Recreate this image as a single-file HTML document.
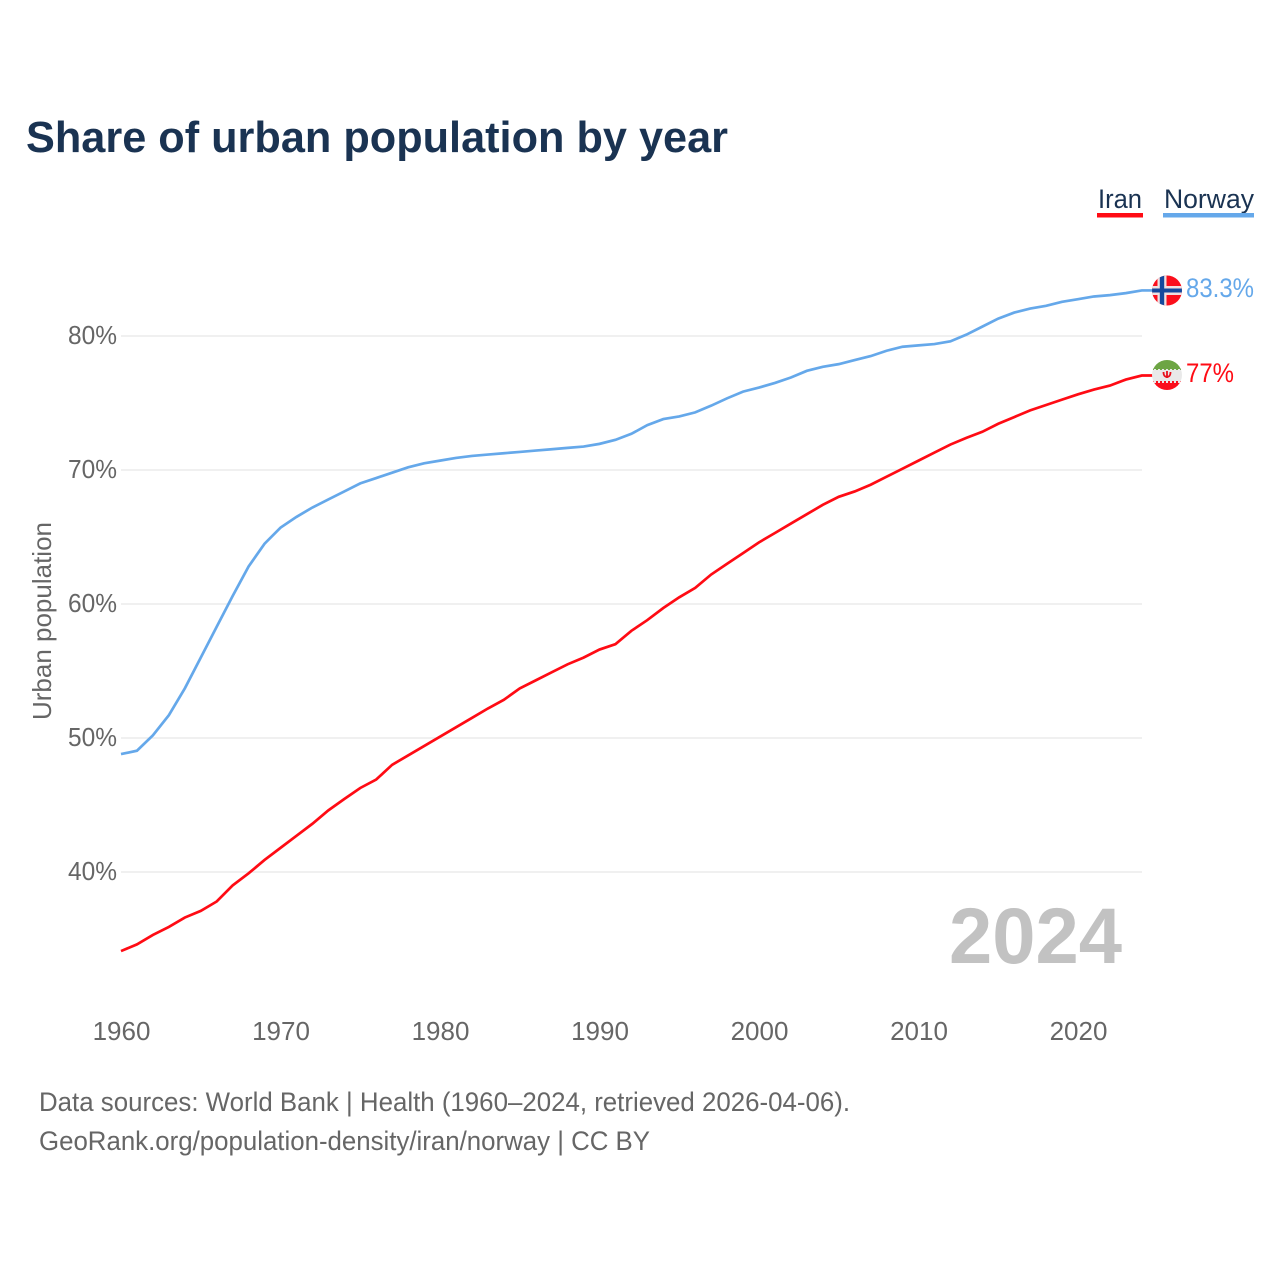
<!DOCTYPE html>
<html lang="en">
<head>
<meta charset="utf-8">
<title>Share of urban population by year</title>
<style>
html,body{margin:0;padding:0;background:#fff}
svg{display:block;font-family:"Liberation Sans",Arial,sans-serif}
</style>
</head>
<body>
<svg id="chart" xmlns="http://www.w3.org/2000/svg" width="1280" height="1280" viewBox="0 0 1280 1280">
<defs>
<clipPath id="clip-no"><circle cx="1167" cy="290.500" r="15"/></clipPath>
<clipPath id="clip-ir"><circle cx="1167" cy="375" r="15"/></clipPath>
</defs>
<rect width="1280" height="1280" fill="#fff"/>
<text x="26" y="152" font-size="44" font-weight="700" fill="#1a3352" textLength="702" lengthAdjust="spacingAndGlyphs">Share of urban population by year</text>
<g id="grid"></g>
<g id="yticks"></g>
<g id="xticks"></g>
<text transform="translate(51,621) rotate(-90)" text-anchor="middle" font-size="26" fill="#666" textLength="198" lengthAdjust="spacingAndGlyphs">Urban population</text>
<text x="949" y="963" font-size="79" font-weight="700" fill="#c2c2c2" textLength="173" lengthAdjust="spacingAndGlyphs">2024</text>
<g id="series"></g>
<g>
<text x="1098" y="208" font-size="27" fill="#1a3352" textLength="44" lengthAdjust="spacingAndGlyphs">Iran</text>
<rect x="1097" y="213" width="46" height="4.500" fill="#ff0b14"/>
</g>
<g>
<text x="1164" y="208" font-size="27" fill="#1a3352" textLength="90" lengthAdjust="spacingAndGlyphs">Norway</text>
<rect x="1163" y="213" width="91" height="4.500" fill="#65a8ea"/>
</g>
<g clip-path="url(#clip-no)">
<rect x="1152" y="275" width="30" height="31" fill="#fb0f1c"/>
<rect x="1152" y="286" width="30" height="9" fill="#f0e0e0"/>
<rect x="1157.500" y="275" width="9" height="31" fill="#f0e0e0"/>
<rect x="1152" y="288.500" width="30" height="4" fill="#15499c"/>
<rect x="1159.800" y="275" width="4.400" height="31" fill="#15499c"/>
</g>
<g clip-path="url(#clip-ir)">
<rect x="1152" y="360" width="30" height="9" fill="#6da544"/>
<rect x="1152" y="369" width="30" height="14" fill="#e9e9e9"/>
<rect x="1152" y="383" width="30" height="8" fill="#fb0f1c"/>
<line x1="1152" x2="1182" y1="369" y2="369" stroke="#6da544" stroke-width="2" stroke-dasharray="2 2"/>
<line x1="1152" x2="1182" y1="382" y2="382" stroke="#fb0f1c" stroke-width="2" stroke-dasharray="2 2"/>
<path d="M1163.500 372c0 3.800 1.800 5 3.500 5s3.500-1.200 3.500-5M1167 371v7" fill="none" stroke="#e8101c" stroke-width="1.800"/>
</g>
<text x="1186" y="297" font-size="27" fill="#65a8ea" textLength="68" lengthAdjust="spacingAndGlyphs">83.3%</text>
<text x="1186" y="382" font-size="27" fill="#ff0b14" textLength="48" lengthAdjust="spacingAndGlyphs">77%</text>
<text x="39" y="1111" font-size="26.500" fill="#666" textLength="811" lengthAdjust="spacingAndGlyphs">Data sources: World Bank | Health (1960–2024, retrieved 2026-04-06).</text>
<text x="39" y="1150" font-size="26.500" fill="#666" textLength="611" lengthAdjust="spacingAndGlyphs">GeoRank.org/population-density/iran/norway | CC BY</text>
</svg>
<script>
const startYear = 1960;
const iranValues = [34.1,34.6,35.3,35.9,36.6,37.1,37.8,39.0,39.9,40.9,41.8,42.7,43.6,44.6,45.45,46.27,46.9,48.0,48.7,49.4,50.1,50.8,51.5,52.2,52.85,53.7,54.3,54.9,55.5,56.0,56.6,57.0,58.0,58.8,59.7,60.5,61.2,62.2,63.0,63.8,64.6,65.3,66.0,66.7,67.4,68.0,68.4,68.9,69.5,70.1,70.7,71.3,71.9,72.4,72.85,73.45,73.95,74.45,74.85,75.25,75.65,76.0,76.3,76.75,77.05];
const norwayValues = [48.8,49.05,50.2,51.7,53.7,56.0,58.3,60.6,62.8,64.5,65.7,66.5,67.2,67.8,68.4,69.0,69.4,69.8,70.2,70.5,70.7,70.9,71.05,71.15,71.25,71.35,71.45,71.55,71.65,71.75,71.95,72.25,72.7,73.35,73.8,74.0,74.3,74.8,75.35,75.85,76.15,76.5,76.9,77.4,77.7,77.9,78.2,78.5,78.9,79.2,79.3,79.4,79.6,80.1,80.7,81.3,81.75,82.05,82.25,82.55,82.75,82.95,83.05,83.2,83.4];
const yTicks = [40,50,60,70,80];
const xTicks = [1960,1970,1980,1990,2000,2010,2020];

const SVG_NS = 'http://www.w3.org/2000/svg';
function xScale(year){ return 121 + (year - 1960) * 15.95; }
function yScale(v){ return 872 - (v - 40) * 13.4; }

const gridG = document.getElementById('grid');
const yG = document.getElementById('yticks');
const xG = document.getElementById('xticks');
const seriesG = document.getElementById('series');

yTicks.forEach(function(t){
  const line = document.createElementNS(SVG_NS, 'line');
  
  
  line.setAttribute('x1', 121);
  line.setAttribute('x2', 1142);
  line.setAttribute('y1', yScale(t));
  line.setAttribute('y2', yScale(t));
  line.setAttribute('stroke', '#e8e8e8');
  line.setAttribute('stroke-width', '1.2');
  gridG.appendChild(line);
  const label = document.createElementNS(SVG_NS, 'text');
  
  
  label.setAttribute('x', 117);
  label.setAttribute('y', yScale(t) + 8);
  label.setAttribute('text-anchor', 'end');
  label.setAttribute('font-size', '26');
  label.setAttribute('fill', '#666');
  label.setAttribute('textLength', '49');
  label.setAttribute('lengthAdjust', 'spacingAndGlyphs');
  label.textContent = t + '%';
  yG.appendChild(label);
});

xTicks.forEach(function(t){
  const label = document.createElementNS(SVG_NS, 'text');
  
  
  label.setAttribute('x', xScale(t) + 0.5);
  label.setAttribute('y', 1040);
  label.setAttribute('text-anchor', 'middle');
  label.setAttribute('font-size', '26');
  label.setAttribute('fill', '#666');
  label.textContent = t;
  xG.appendChild(label);
});

function linePoints(values){
  const pts = values.map(function(v, i){
    return xScale(startYear + i).toFixed(2) + ',' + yScale(v).toFixed(2);
  });
  pts.push('1153,' + yScale(values[values.length - 1]).toFixed(2));
  return pts.join(' ');
}

const norwayLine = document.createElementNS(SVG_NS, 'polyline');


norwayLine.setAttribute('points', linePoints(norwayValues));
norwayLine.setAttribute('fill', 'none');
norwayLine.setAttribute('stroke', '#65a8ea');
norwayLine.setAttribute('stroke-width', '2.7');
seriesG.appendChild(norwayLine);

const iranLine = document.createElementNS(SVG_NS, 'polyline');


iranLine.setAttribute('points', linePoints(iranValues));
iranLine.setAttribute('fill', 'none');
iranLine.setAttribute('stroke', '#ff0b14');
iranLine.setAttribute('stroke-width', '2.7');
seriesG.appendChild(iranLine);
</script>
</body>
</html>
